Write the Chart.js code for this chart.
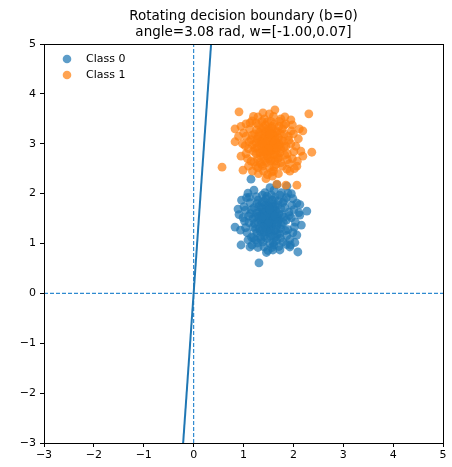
<!DOCTYPE html>
<html>
<head>
<meta charset="utf-8">
<script src="https://cdn.jsdelivr.net/npm/chart.js@4"></script>
<style>
  html, body { margin: 0; padding: 0; background: #fff; }
  #wrap { width: 452px; height: 467px; }
</style>
</head>
<body>
<div id="wrap"><canvas id="c" width="452" height="467"></canvas></div>
<script>
// ── Data ──────────────────────────────────────────────────────────────────
const titleLines = ['Rotating decision boundary (b=0)', 'angle=3.08 rad, w=[-1.00,0.07]'];
const seriesNames = ['Class 0', 'Class 1'];
const axisMin = -3;
const axisMax = 5;
const weights = [-1.00, 0.07];
const bias = 0;

const class0 = [
  [1.31,0.61],[1.15,2.29],[2.27,1.65],[2.09,0.83],[0.83,1.33],[0.95,0.97],[1.13,0.93],[1.73,0.87],
  [1.93,0.93],[0.89,1.69],[1.09,2.01],[1.89,2.01],[2.07,1.81],[2.13,1.57],[1.67,2.18],[1.87,2.15],
  [1.47,1.50],[1.53,1.43],[1.39,1.62],[1.61,1.56],[1.56,1.33],[1.41,1.37],[1.66,1.49],[1.34,1.47],
  [1.49,1.70],[1.59,1.74],[1.31,1.63],[1.71,1.60],[1.63,1.26],[1.41,1.23],[1.52,1.82],[1.24,1.54],
  [1.76,1.38],[1.32,1.30],[1.69,1.77],[1.21,1.72],[1.81,1.53],[1.58,1.16],[1.47,1.10],[1.27,1.22],
  [1.73,1.20],[1.86,1.47],[1.14,1.60],[1.45,1.90],[1.63,1.92],[1.37,1.82],[1.79,1.82],[1.91,1.63],
  [1.11,1.42],[1.19,1.33],[1.53,1.00],[1.66,1.06],[1.39,1.03],[1.89,1.28],[1.96,1.52],[1.04,1.67],
  [1.13,1.82],[1.26,1.94],[1.56,1.97],[1.73,1.97],[1.86,1.92],[2.01,1.68],[2.04,1.43],[1.99,1.22],
  [1.79,1.03],[1.61,0.97],[1.41,0.93],[1.24,1.07],[1.16,1.13],[1.04,1.32],[0.99,1.52],[1.01,1.74],
  [1.93,1.08],[2.11,1.62],[1.49,0.86],[1.29,0.92],[1.59,0.87],[1.71,0.94],[1.43,2.02],[1.61,2.07],
  [1.76,2.02],[1.21,2.07],[1.06,1.92],[0.96,1.87],[1.99,1.90],[2.13,1.78],[2.16,1.37],[1.94,0.97],
  [1.17,0.97],[1.09,1.07],[0.94,1.27],[0.91,1.58],[1.51,1.22],[1.46,1.30],[1.56,1.64],[1.36,1.57],
  [1.64,1.42],[1.51,1.46],[1.44,1.77],[1.68,1.54],[1.28,1.44],[1.74,1.30],[1.58,1.87],[1.34,1.14],
  [1.83,1.72],[1.19,1.50],[1.87,1.16],[1.64,1.13],[1.38,1.97],[1.53,2.12],[2.03,1.02],[1.46,0.82],
  [1.27,1.80],[1.07,1.22],[1.96,2.00],[2.07,1.17],[1.55,1.55],[1.42,1.45],[1.65,1.66],[1.35,1.72],
  [1.48,1.58],[1.54,1.51],[1.40,1.49],[1.57,1.40],[1.44,1.64],[1.62,1.61],[1.36,1.39],[1.51,1.35],
  [1.67,1.36],[1.30,1.55],[1.45,1.42],[1.59,1.69],[1.38,1.70],[1.71,1.48],[1.26,1.61],[1.50,1.76],
  [1.64,1.75],[1.33,1.25],[1.55,1.27],[1.77,1.58],[1.22,1.40],[1.42,1.15],[1.68,1.19],[1.80,1.42],
  [1.47,1.95],[1.70,1.86],[1.29,1.87],[1.16,1.68],[1.84,1.26],[1.60,1.02],[1.35,1.08],[1.92,1.56],
  [1.10,1.55],[1.54,1.62],[1.43,1.55],[1.61,1.48],[1.37,1.51],[1.49,1.40],[1.58,1.80],[1.31,1.74],
  [1.75,1.70],[1.24,1.29],[1.66,1.28],[1.41,1.85],[1.53,1.15],[1.82,1.86],[1.20,1.12],[1.97,1.77],
  [1.02,1.45],[1.74,1.11],[1.12,1.93],[1.57,0.92],[2.02,1.33],[1.28,1.01],[1.86,0.98],[1.46,1.25],
  [1.63,1.55],[1.39,1.33],[1.52,1.69],[1.69,1.43]
];

const class1 = [
  [0.91,3.64],[1.63,3.68],[2.31,3.60],[0.83,3.30],[2.19,3.26],[0.57,2.53],[2.37,2.83],[0.99,2.47],
  [1.67,2.19],[1.85,2.17],[2.07,2.17],[2.19,2.75],[2.07,2.55],[1.83,3.54],[1.17,3.46],[1.39,3.62],
  [1.29,3.54],[0.83,3.04],
  [1.45,3.02],[1.52,2.95],[1.38,3.10],[1.60,3.08],[1.55,2.85],[1.42,2.88],[1.65,2.97],[1.35,2.95],
  [1.48,3.18],[1.58,3.22],[1.30,3.15],[1.70,3.12],[1.62,2.78],[1.40,2.75],[1.50,3.30],[1.25,3.02],
  [1.75,2.90],[1.33,2.82],[1.68,3.25],[1.22,3.20],[1.80,3.05],[1.57,2.68],[1.46,2.62],[1.28,2.70],
  [1.72,2.72],[1.85,2.95],[1.15,3.08],[1.44,3.38],[1.62,3.40],[1.36,3.30],[1.78,3.30],[1.90,3.15],
  [1.10,2.90],[1.20,2.85],[1.52,2.52],[1.65,2.58],[1.38,2.55],[1.88,2.80],[1.95,3.00],[1.05,3.15],
  [1.12,3.30],[1.25,3.42],[1.55,3.45],[1.72,3.45],[1.85,3.40],[2.00,3.20],[2.05,2.95],[1.98,2.70],
  [1.78,2.55],[1.60,2.45],[1.40,2.45],[1.25,2.55],[1.15,2.65],[1.05,2.80],[0.98,3.00],[1.00,3.22],
  [1.92,2.60],[2.10,3.10],[1.48,2.38],[1.30,2.40],[1.58,2.35],[1.70,2.40],[1.42,3.50],[1.60,3.55],
  [1.75,3.50],[1.20,3.55],[1.05,3.40],[0.95,3.35],[1.98,3.38],[2.12,3.30],[2.15,2.85],[1.93,2.45],
  [1.18,2.45],[1.10,2.55],[0.95,2.75],[0.90,3.15],[1.50,2.70],[1.45,2.82],[1.55,3.12],[1.35,3.05],
  [1.62,2.90],[1.50,2.98],[1.43,3.25],[1.67,3.02],[1.27,2.92],[1.73,2.82],[1.57,3.35],[1.33,2.62],
  [1.82,3.20],[1.18,2.98],[1.88,2.68],[1.63,2.65],[1.37,3.45],[1.52,3.60],[2.02,2.50],[1.45,2.30],
  [1.26,3.28],[1.08,2.70],[1.95,3.48],[2.08,2.65],
  [1.47,3.09],[1.55,3.00],[1.41,2.97],[1.58,2.91],[1.43,3.15],[1.63,3.12],[1.37,2.88],[1.52,2.84],
  [1.66,2.87],[1.31,3.06],[1.46,2.93],[1.60,3.18],[1.39,3.21],[1.72,2.99],[1.27,3.10],[1.51,3.27],
  [1.65,3.24],[1.34,2.76],[1.56,2.78],[1.76,3.07],[1.23,2.91],[1.43,2.66],[1.69,2.70],[1.81,2.93],
  [1.48,3.44],[1.71,3.35],[1.30,3.38],[1.17,3.17],[1.83,2.77],[1.61,2.53],[1.36,2.59],[1.91,3.07],
  [1.11,3.04],[1.53,3.13],[1.44,3.04],[1.60,2.99],[1.38,3.00],[1.50,2.89],[1.57,3.31],[1.32,3.23],
  [1.74,3.21],[1.25,2.80],[1.67,2.77],[1.40,3.34],[1.54,2.66],[1.81,3.37],[1.21,2.63],[1.96,3.26],
  [1.03,2.96],[1.75,2.62],[1.13,3.42],[1.56,2.43],[2.01,2.84],[1.29,2.52],[1.87,2.49],[1.47,2.76],
  [1.64,3.06],[1.40,2.84],[1.53,3.20],[1.70,2.94]
];

// ── Styling ──────────────────────────────────────────────────────────────
const BLUE   = '#1f77b4';
const DASH   = '#2f8ad0';
const FONT   = '"DejaVu Sans", sans-serif';
const FILL0  = 'rgba(31,119,180,0.72)';
const FILL1  = 'rgba(255,127,14,0.72)';
const toPts  = arr => arr.map(([x, y]) => ({ x, y }));

// boundary: w0*x + w1*y + b = 0  ->  x = -(b + w1*y) / w0
const boundary = [axisMin, axisMax].map(y => ({ x: -(bias + weights[1] * y) / weights[0], y }));

const frameAndText = {
  id: 'frameAndText',
  afterDraw(chart) {
    const { ctx, chartArea: { left, top, right, bottom } } = chart;
    ctx.save();
    ctx.strokeStyle = '#000';
    ctx.lineWidth = 1;
    ctx.strokeRect(Math.round(left) + 0.5, Math.round(top) + 0.5,
                   Math.round(right - left), Math.round(bottom - top));

    // title
    ctx.fillStyle = '#000';
    ctx.textAlign = 'center';
    ctx.textBaseline = 'middle';
    ctx.font = '13.5px ' + FONT;
    const cx = (left + right) / 2;
    ctx.fillText(titleLines[0], cx, 16);
    ctx.fillText(titleLines[1], cx, 32);

    // legend
    ctx.textAlign = 'left';
    ctx.font = '11px ' + FONT;
    [FILL0, FILL1].forEach((col, i) => {
      const y = top + 15 + i * 16;
      ctx.fillStyle = col;
      ctx.beginPath();
      ctx.arc(left + 23, y, 4.3, 0, Math.PI * 2);
      ctx.fill();
      ctx.fillStyle = '#000';
      ctx.fillText(seriesNames[i], left + 42, y);
    });
    ctx.restore();
  }
};

const tickFmt = v => String(v).replace('-', '\u2212');

new Chart(document.getElementById('c'), {
  type: 'scatter',
  data: {
    datasets: [
      { label: 'boundary', type: 'line', data: boundary, borderColor: BLUE, borderWidth: 2,
        pointRadius: 0, order: 0 },
      { label: seriesNames[1], data: toPts(class1), backgroundColor: FILL1,
        borderWidth: 0, pointRadius: 4.4, order: 1 },
      { label: seriesNames[0], data: toPts(class0), backgroundColor: FILL0,
        borderWidth: 0, pointRadius: 4.4, order: 2 },
      { label: 'x0', type: 'line', data: [{ x: axisMin, y: 0 }, { x: axisMax, y: 0 }],
        borderColor: DASH, borderWidth: 1.2, borderDash: [4, 2],
        pointRadius: 0, order: 3 },
      { label: 'y0', type: 'line', data: [{ x: 0, y: axisMin }, { x: 0, y: axisMax }],
        borderColor: DASH, borderWidth: 1.2, borderDash: [4, 2],
        pointRadius: 0, order: 3 }
    ]
  },
  options: {
    responsive: false,
    animation: false,
    layout: { padding: { left: 0, top: 44, right: 9, bottom: 0 } },
    plugins: { legend: { display: false }, tooltip: { enabled: false }, title: { display: false } },
    scales: {
      x: {
        type: 'linear', min: axisMin, max: axisMax,
        afterFit: s => { s.height = 24; },
        grid: { display: true, drawOnChartArea: false, drawTicks: true, tickLength: 4, color: '#000' },
        border: { display: true, color: '#000', width: 1 },
        ticks: { stepSize: 1, color: '#000', padding: 2, font: { family: FONT, size: 11 },
                 maxRotation: 0, callback: tickFmt }
      },
      y: {
        type: 'linear', min: axisMin, max: axisMax,
        afterFit: s => { s.width = 44; },
        grid: { display: true, drawOnChartArea: false, drawTicks: true, tickLength: 4, color: '#000' },
        border: { display: true, color: '#000', width: 1 },
        ticks: { stepSize: 1, color: '#000', padding: 4, font: { family: FONT, size: 11 },
                 callback: tickFmt }
      }
    }
  },
  plugins: [frameAndText]
});
</script>
</body>
</html>
